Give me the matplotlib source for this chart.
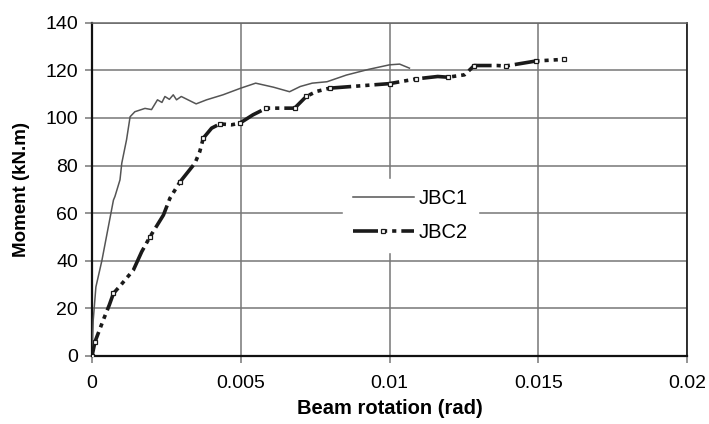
import matplotlib
matplotlib.use("Agg")
import matplotlib.pyplot as plt

plt.rcParams["font.family"] = ["Liberation Sans", "DejaVu Sans"]
plt.rcParams["lines.scale_dashes"] = False

# JBC1 - thin grey curve
jbc1_rot = [0.0, 0.00004, 0.00013, 0.00033, 0.00072, 0.00077, 0.00094, 0.0010, 0.00116,
            0.00128, 0.00144, 0.00178, 0.0020, 0.0022, 0.00235, 0.00245, 0.0026, 0.00273,
            0.00284, 0.0030, 0.0035, 0.00385, 0.0044, 0.0050, 0.0055, 0.0061, 0.00664,
            0.0070, 0.0074, 0.0079, 0.00855, 0.0093, 0.0100, 0.01034, 0.01067]
jbc1_mom = [0, 15, 29, 40, 65.5, 67, 74, 81, 90.8,
            100.5, 102.6, 104, 103.5, 107.6, 106.5, 109, 107.8, 109.7,
            107.6, 109, 105.9, 107.6, 109.7, 112.5, 114.6, 112.9, 111,
            113.2, 114.6, 115.2, 118, 120.4, 122.3, 122.6, 120.9]

# JBC2 - thick dash-dot-dot curve with square markers
jbc2_rot = [0.0, 0.0001, 0.0004, 0.00058, 0.00072, 0.00094, 0.00139, 0.00167, 0.00195,
            0.0024, 0.00262, 0.00295, 0.00346, 0.00362, 0.00374, 0.00402, 0.0043, 0.00469,
            0.00497, 0.00541, 0.00586, 0.00681, 0.0072, 0.00754, 0.00799, 0.00894, 0.0100,
            0.0109, 0.01162, 0.01196, 0.01252, 0.01285, 0.01363, 0.01391, 0.01492, 0.01587]
jbc2_mom = [0, 6, 15.8, 21.4, 26.3, 29.4, 36.1, 43.8, 50.1,
            59.2, 66.3, 73, 81, 85.8, 91.5, 95.7, 97.5, 97.1,
            97.8, 101.3, 104.1, 104.1, 109, 111.1, 112.5, 113.4, 114.4,
            116.4, 117.4, 117.1, 118.1, 122, 122, 121.8, 123.9, 124.6]

x_ticks = [0, 0.005, 0.01, 0.015, 0.02]
x_tick_labels = ["0", "0.005", "0.01", "0.015", "0.02"]
y_ticks = [0, 20, 40, 60, 80, 100, 120, 140]

fig = plt.figure(figsize=(7.09, 4.24), dpi=100)
ax = fig.add_axes([0.1298, 0.1604, 0.969 - 0.1298, 0.9465 - 0.1604])

ax.plot(jbc1_rot, jbc1_mom, color="#555555", linewidth=1.1, label="JBC1", zorder=3)
ax.plot(jbc2_rot, jbc2_mom, color="#1a1a1a", linewidth=2.6,
        dashes=(18, 3.6, 3, 3.6, 3, 3.6), dash_capstyle="butt",
        marker="s", markersize=3.3, markerfacecolor="white", markeredgecolor="#1a1a1a",
        markeredgewidth=0.9, markevery=[0, 1, 4, 8, 11, 14, 16, 18, 20, 21, 22, 24, 26, 27, 29, 31, 33, 34, 35],
        label="JBC2", zorder=4)

ax.set_xlim(0, 0.02)
ax.set_ylim(0, 140)
ax.set_xticks(x_ticks)
ax.set_xticklabels(x_tick_labels)
ax.set_yticks(y_ticks)
ax.grid(True, color="#777777", linewidth=1.1)
ax.set_axisbelow(True)

for side in ["left", "bottom"]:
    ax.spines[side].set_linewidth(1.6)
    ax.spines[side].set_color("#111111")
ax.spines["top"].set_color("#666666")
ax.spines["top"].set_linewidth(1.1)
ax.spines["right"].set_color("#222222")
ax.spines["right"].set_linewidth(1.3)

ax.tick_params(axis="both", labelsize=14, length=5, width=1.1, color="#777777")
ax.tick_params(axis="x", pad=9)
ax.tick_params(axis="y", pad=5)

ax.set_xlabel("Beam rotation (rad)", fontsize=14.5, fontweight="bold", labelpad=5)
ax.set_ylabel("Moment (kN.m)", fontsize=13.5, fontweight="bold", labelpad=11)

leg = ax.legend(loc="upper left", bbox_to_anchor=(0.422, 0.531), borderaxespad=0,
                frameon=True, fontsize=14.5, handlelength=3.0, handletextpad=0.25,
                borderpad=0.5, labelspacing=0.75, fancybox=False)
leg.get_frame().set_edgecolor("white")
leg.get_frame().set_facecolor("white")
leg.get_frame().set_alpha(1)

fig.savefig("out.png", dpi=100)
